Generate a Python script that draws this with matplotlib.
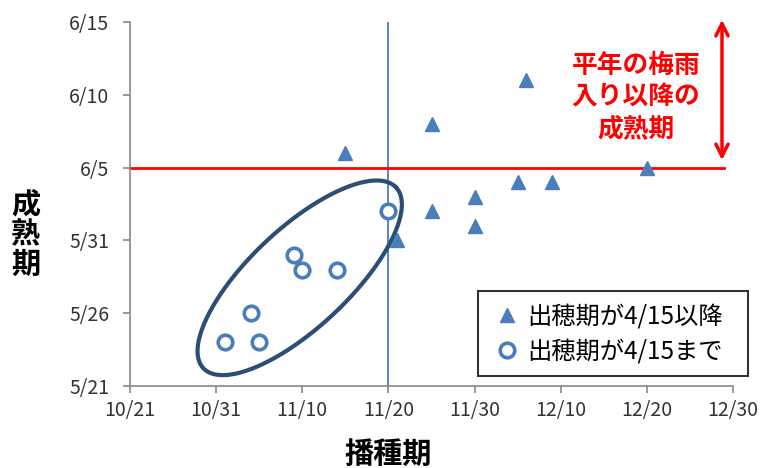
import datetime as dt
import numpy as np
import matplotlib
matplotlib.use("Agg")
import matplotlib.pyplot as plt
import matplotlib.dates as mdates
from matplotlib.ticker import FuncFormatter, FixedLocator

plt.rcParams['font.family'] = ['Noto Sans CJK JP', 'DejaVu Sans']

# Data: (sowing date, maturity date)
late_sow = ["11/15", "11/21", "11/25", "11/25", "11/30", "11/30", "12/5", "12/6", "12/9", "12/20"]
late_mat = ["6/6", "5/31", "6/8", "6/2", "6/3", "6/1", "6/4", "6/11", "6/4", "6/5"]
early_sow = ["11/1", "11/4", "11/5", "11/9", "11/10", "11/14", "11/20"]
early_mat = ["5/24", "5/26", "5/24", "5/30", "5/29", "5/29", "6/2"]
x_ticks = ["10/21", "10/31", "11/10", "11/20", "11/30", "12/10", "12/20", "12/30"]
y_ticks = ["5/21", "5/26", "5/31", "6/5", "6/10", "6/15"]
label_late = "出穂期が4/15以降"
label_early = "出穂期が4/15まで"
x_label = "播種期"
y_label = "成熟期"
note = "平年の梅雨\n入り以降の\n成熟期"
rainy_start = "6/5"
sow_ref = "11/20"

def xd(s):
    m, d = map(int, s.split("/"))
    return mdates.date2num(dt.date(2012, m, d))

def yd(s):
    m, d = map(int, s.split("/"))
    return mdates.date2num(dt.date(2013, m, d))

def fmt(v, pos=None):
    d = mdates.num2date(v)
    return f"{d.month}/{d.day}"

fig = plt.figure(figsize=(7.63, 4.68), dpi=100)
ax = fig.add_axes([130/763, 1 - 386/468, (733-130)/763, (386-22)/468])

blue = "#4a7ebb"
ax.axvline(xd(sow_ref), color=blue, lw=1.3, zorder=1)
ax.plot([xd(x_ticks[0]), xd("12/29")], [yd(rainy_start)]*2, color="#ff0000", lw=2, zorder=1)

ax.plot([xd(s) for s in late_sow], [yd(s) for s in late_mat], ls="none",
        marker="^", ms=10.5, color=blue, mec=blue, label=label_late, zorder=3)
ax.plot([xd(s) for s in early_sow], [yd(s) for s in early_mat], ls="none",
        marker="o", ms=10.5, mfc="white", mec=blue, mew=2.6, label=label_early, zorder=3)

# Ellipse around early group (affine in data units)
t = np.linspace(0, 2*np.pi, 300)
cx, cy = xd("11/10") - 0.3, yd("5/29") - 0.57
u = np.array([11.2, 6.2])
v = np.array([3.9, -2.5])
ex = cx + u[0]*np.cos(t) + v[0]*np.sin(t)
ey = cy + u[1]*np.cos(t) + v[1]*np.sin(t)
ax.plot(ex, ey, color="#2c4d75", lw=3, zorder=2)

ax.set_xlim(xd(x_ticks[0]), xd(x_ticks[-1]))
ax.set_ylim(yd(y_ticks[0]), yd(y_ticks[-1]))
ax.xaxis.set_major_locator(FixedLocator([xd(s) for s in x_ticks]))
ax.yaxis.set_major_locator(FixedLocator([yd(s) for s in y_ticks]))
ax.xaxis.set_major_formatter(FuncFormatter(fmt))
ax.yaxis.set_major_formatter(FuncFormatter(fmt))

for sp in ["top", "right"]:
    ax.spines[sp].set_visible(False)
for sp in ["left", "bottom"]:
    ax.spines[sp].set_color("#888888")
    ax.spines[sp].set_linewidth(1.2)
ax.tick_params(axis="both", colors="#888888", length=5, width=1.2, direction="out",
               labelcolor="#333333", labelsize=14)
ax.tick_params(axis="x", pad=5)
ax.tick_params(axis="y", pad=10)

fig.text(388/763, 1 - 454/468, x_label, fontsize=21, fontweight="bold",
         ha="center", va="center")
fig.text(26/763, 1 - 234/468, "\n".join(y_label), fontsize=21, fontweight="bold",
         ha="center", va="center", linespacing=1.0)

# Arrow + note
ax.annotate("", xy=(722, 468 - 17), xycoords="figure pixels",
            xytext=(722, 468 - 163), textcoords="figure pixels",
            arrowprops=dict(arrowstyle="<->", color="#ff0000", lw=2.5,
                            mutation_scale=22))
fig.text(636/763, 1 - 97/468, note, color="#ff0000", fontsize=18.5, fontweight="bold",
         ha="center", va="center", linespacing=1.22)

leg = ax.legend(loc="upper left",
                bbox_to_anchor=(478/763, 1 - 372/468, 270/763, 81/468),
                bbox_transform=fig.transFigure, mode="expand", borderaxespad=0,
                fontsize=17.5, frameon=True, fancybox=False, edgecolor="black",
                handletextpad=0.14, handlelength=1.38, borderpad=0.5,
                labelspacing=0.37)
leg.get_frame().set_linewidth(1.5)

fig.savefig("out.png", dpi=100)
